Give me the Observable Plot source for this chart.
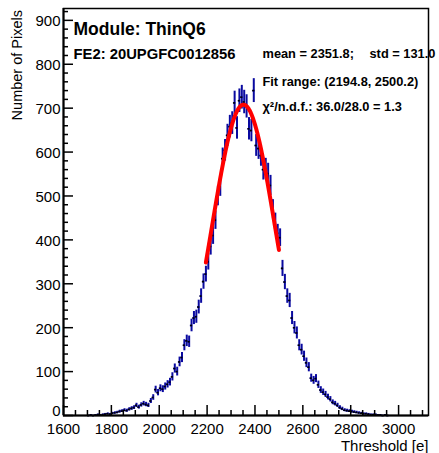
<!DOCTYPE html>
<html><head><meta charset="utf-8">
<script src="https://cdn.jsdelivr.net/npm/d3@7"></script>
<script src="https://cdn.jsdelivr.net/npm/@observablehq/plot@0.6"></script>
<style>body{margin:0;background:#fff} svg{display:block}</style>
</head><body><div id="chart"></div>
<script>
// Histogram: first bin starts at 1700, bins are 10 e wide
const binStart = 1700;
const binWidth = 10;
const counts = [
  0, 1, 0, 1, 2, 1, 2, 3, 4, 3,
  5, 6, 7, 9, 10, 12, 11, 14, 16, 18,
  23, 19, 24, 27, 25, 23, 33, 41, 59, 52,
  62, 60, 66, 71, 76, 88, 107, 100, 122, 132,
  160, 170, 168, 205, 222, 225, 247, 272, 305, 322,
  350, 385, 410, 445, 500, 522, 585, 604, 638, 658,
  666, 712, 655, 717, 725, 714, 704, 653, 649, 740,
  615, 608, 592, 560, 562, 551, 524, 470, 440, 415,
  405, 335, 304, 272, 262, 222, 200, 188, 160, 150,
  135, 120, 110, 85, 80, 84, 70, 58, 53, 48,
  42, 37, 30, 27, 23, 18, 15, 12, 11, 10,
  9, 8, 7, 6, 5, 4, 4, 3, 2, 2,
  2, 1, 1, 0, 1, 0
];
const fitRange = [2194.8, 2500.2];
const fitAmplitude = 708;
const fitMean = 2352;
const fitSigma = 132;
const xTickLabels = [1600, 1800, 2000, 2200, 2400, 2600, 2800, 3000];
const yTickLabels = [0, 100, 200, 300, 400, 500, 600, 700, 800, 900];
const xMinorTicks = d3.range(1600, 3101, 50);
const yMinorTicks = d3.range(0, 921, 20);
const titleText = "Module: ThinQ6";
const feText = "FE2: 20UPGFC0012856";
const meanText = "mean = 2351.8;";
const stdText = "std = 131.0";
const fitText = "Fit range: (2194.8, 2500.2)";
const chiText = "\u03c7\u00b2/n.d.f.: 36.0/28.0 = 1.3";
const xLabel = "Threshold [e]";
const yLabel = "Number of Pixels";

const bins = counts.map((n, i) => ({x: binStart + binWidth * (i + 0.5), n}));
const fitX = d3.range(fitRange[0], fitRange[1], 1).concat([fitRange[1]]);
const fitCurve = fitX.map(x => ({x, y: fitAmplitude * Math.exp(-((x - fitMean) ** 2) / (2 * fitSigma ** 2))}));

const xDomain = [1600, 3125];
const yDomain = [0, 927];
const W = 439, H = 453, mL = 63, mR = 11, mT = 8, mB = 38;
const pxX = (xDomain[1] - xDomain[0]) / (W - mL - mR); // data units per px
const pxY = (yDomain[1] - yDomain[0]) / (H - mT - mB);
const font = "'Liberation Sans', Arial, Helvetica, sans-serif";
const blue = "#0a0aa0";

const chart = Plot.plot({
  width: W, height: H,
  marginLeft: mL, marginRight: mR, marginTop: mT, marginBottom: mB,
  x: {domain: xDomain},
  y: {domain: yDomain},
  style: {fontFamily: font, background: "white", color: "black"},
  marks: [
    // error bars
    Plot.ruleX(bins.filter(d => d.n > 0), {x: "x", y1: d => d.n - Math.sqrt(d.n), y2: d => d.n + Math.sqrt(d.n), stroke: blue, strokeWidth: 2}),
    Plot.ruleY(bins, {y: "n", x1: d => d.x - binWidth / 2, x2: d => d.x + binWidth / 2, stroke: blue, strokeWidth: 1.5}),
    Plot.ruleY(bins, {y: "n", x1: d => d.x - 4, x2: d => d.x + 4, stroke: "black", strokeWidth: 1.6}),
    // fit
    Plot.line(fitCurve, {x: "x", y: "y", stroke: "#ff0000", strokeWidth: 4}),
    // frame
    Plot.frame({stroke: "black", strokeWidth: 1.5}),
    Plot.ruleX([xDomain[0]], {stroke: "black", strokeWidth: 2}),
    Plot.ruleY([yDomain[0]], {stroke: "black", strokeWidth: 2}),
    // inward ticks
    Plot.ruleX(xMinorTicks, {x: d => d, y1: 0, y2: d => (d % 200 === 0 ? 10 : 5) * pxY, stroke: "black", strokeWidth: 1.5}),
    Plot.ruleY(yMinorTicks, {y: d => d, x1: xDomain[0], x2: d => xDomain[0] + (d % 100 === 0 ? 10 : 5) * pxX, stroke: "black", strokeWidth: 1.5}),
    // tick labels
    Plot.axisX({ticks: xTickLabels, tickSize: 0, tickPadding: 8, fontSize: 15, label: null, tickFormat: d => String(d)}),
    Plot.axisY({ticks: yTickLabels.filter(d => d > 0), tickSize: 0, tickPadding: 3, fontSize: 15, dy: 1, label: null, tickFormat: d => String(d)}),
    Plot.axisY({ticks: yTickLabels.filter(d => d === 0), tickSize: 0, tickPadding: 3, fontSize: 15, dy: -4, label: null, tickFormat: d => String(d)}),
    // axis titles
    Plot.text([yLabel], {frameAnchor: "top-left", dx: -46, dy: 1.5, rotate: -90, textAnchor: "end", lineAnchor: "middle", fontSize: 14.5}),
    Plot.text([xLabel], {frameAnchor: "bottom-right", dx: 0, dy: 35, textAnchor: "end", lineAnchor: "bottom", fontSize: 15}),
    // annotations
    Plot.text([titleText], {frameAnchor: "top-left", dx: 10, dy: 26, textAnchor: "start", lineAnchor: "bottom", fontSize: 17.5, fontWeight: "bold"}),
    Plot.text([feText], {frameAnchor: "top-left", dx: 10, dy: 50.5, textAnchor: "start", lineAnchor: "bottom", fontSize: 14.8, fontWeight: "bold"}),
    Plot.text([meanText], {frameAnchor: "top-left", dx: 199, dy: 49.5, textAnchor: "start", lineAnchor: "bottom", fontSize: 12.8, fontWeight: "bold"}),
    Plot.text([stdText], {frameAnchor: "top-left", dx: 306, dy: 49.5, textAnchor: "start", lineAnchor: "bottom", fontSize: 12.8, fontWeight: "bold"}),
    Plot.text([fitText], {frameAnchor: "top-left", dx: 199, dy: 77, textAnchor: "start", lineAnchor: "bottom", fontSize: 12.8, fontWeight: "bold"}),
    Plot.text([chiText], {frameAnchor: "top-left", dx: 199, dy: 102, textAnchor: "start", lineAnchor: "bottom", fontSize: 12.8, fontWeight: "bold"})
  ]
});
document.getElementById("chart").appendChild(chart);
</script>
</body></html>
